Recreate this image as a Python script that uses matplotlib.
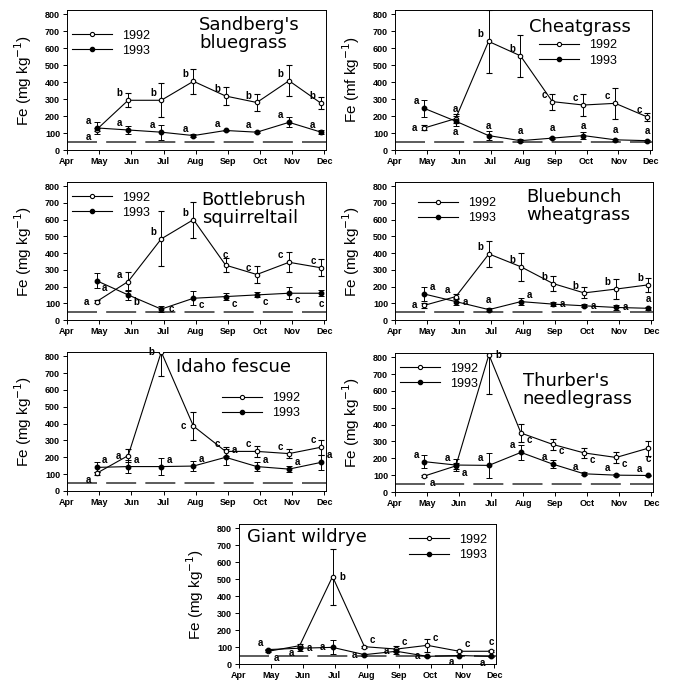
import matplotlib
matplotlib.use("Agg")
import matplotlib.pyplot as plt
from matplotlib.lines import Line2D

plt.rcParams['font.family'] = ['Liberation Sans', 'DejaVu Sans']

# -------------------------------------------------
# DATA
# -------------------------------------------------
months = ['Apr', 'May', 'Jun', 'Jul', 'Aug', 'Sep', 'Oct', 'Nov', 'Dec']
sample_x = [0.92, 1.9, 2.93, 3.93, 4.93, 5.9, 6.9, 7.9]
critical_level = 45

sandberg_1992 = [120, 293, 293, 405, 318, 280, 408, 275]
sandberg_1992_err = [10, 40, 100, 75, 52, 50, 90, 35]
sandberg_1993 = [130, 118, 105, 85, 115, 105, 163, 105]
sandberg_1993_err = [35, 25, 45, 8, 5, 5, 30, 10]
sandberg_1992_let = ['a', 'b', 'b', 'b', 'b', 'b', 'b', 'b']
sandberg_1993_let = ['a', 'a', 'a', 'a', 'a', 'a', 'a', 'a']

cheat_1992 = [130, 185, 640, 555, 285, 265, 275, 195]
cheat_1992_err = [15, 28, 185, 125, 47, 67, 90, 22]
cheat_1993 = [245, 170, 85, 55, 70, 85, 60, 55]
cheat_1993_err = [50, 30, 25, 8, 5, 20, 5, 5]
cheat_1992_let = ['a', 'a', 'b', 'b', 'c', 'c', 'c', 'c']
cheat_1993_let = ['a', 'a', 'a', 'a', 'a', 'a', 'a', 'a']

bottle_1992 = [110, 230, 485, 600, 328, 272, 345, 312]
bottle_1992_err = [10, 55, 165, 107, 43, 52, 60, 50]
bottle_1993 = [235, 150, 65, 130, 140, 150, 160, 160]
bottle_1993_err = [45, 28, 18, 42, 20, 15, 35, 18]
bottle_1992_let = ['a', 'a', 'b', 'b', 'c', 'c', 'c', 'c']
bottle_1993_let = ['a', 'b', 'c', 'c', 'c', 'c', 'c', 'c']

bluebunch_1992 = [88, 140, 395, 318, 218, 162, 185, 210]
bluebunch_1992_err = [15, 15, 76, 83, 44, 33, 60, 40]
bluebunch_1993 = [155, 110, 62, 110, 95, 85, 75, 70]
bluebunch_1993_err = [43, 20, 8, 22, 10, 8, 15, 8]
bluebunch_1992_let = ['a', 'a', 'b', 'b', 'b', 'b', 'b', 'b']
bluebunch_1993_let = ['a', 'a', 'a', 'a', 'a', 'a', 'a', 'a']

idaho_1992 = [105, 210, 825, 385, 235, 235, 222, 260]
idaho_1992_err = [8, 40, 140, 85, 25, 33, 25, 45]
idaho_1993 = [140, 145, 145, 148, 200, 145, 130, 170]
idaho_1993_err = [30, 40, 50, 28, 48, 28, 20, 45]
idaho_1992_let = ['a', 'a', 'b', 'c', 'c', 'c', 'c', 'c']
idaho_1993_let = ['a', 'a', 'a', 'a', 'a', 'a', 'a', 'a']

thurber_1992 = [95, 155, 815, 350, 282, 232, 205, 260]
thurber_1992_err = [5, 20, 235, 55, 33, 28, 35, 45]
thurber_1993 = [180, 160, 158, 235, 165, 108, 100, 98]
thurber_1993_err = [40, 33, 75, 45, 25, 10, 5, 5]
thurber_1992_let = ['a', 'a', 'b', 'c', 'c', 'c', 'c', 'c']
thurber_1993_let = ['a', 'a', 'a', 'a', 'a', 'a', 'a', 'a']

wildrye_1992 = [75, 108, 515, 102, 88, 110, 75, 75]
wildrye_1992_err = [5, 10, 165, 5, 20, 40, 5, 5]
wildrye_1993 = [85, 93, 98, 55, 75, 45, 50, 45]
wildrye_1993_err = [5, 15, 42, 5, 15, 5, 5, 5]
wildrye_1992_let = ['a', 'a', 'b', 'c', 'c', 'c', 'c', 'c']
wildrye_1993_let = ['a', 'a', 'a', 'a', 'a', 'a', 'a', 'a']

# -------------------------------------------------
# LAYOUT / STYLE
# -------------------------------------------------
W, H = 673, 685

# offsets (points) for the significance letters
OFF = {
    'ul': (-6, 5), 'l': (-7, 0), 'll': (-6, -5),
    'ur': (6, 5), 'r': (7, 0), 'lr': (6, -5),
    'u': (0, 7), 'd': (0, -8),
}

panels = [
    dict(title="Sandberg's\nbluegrass", ylabel='Fe (mg kg$^{-1}$)',
         box=(67, 326, 10, 150), title_xy=(0.51, 0.96), leg_xy=(0.02, 0.86),
         d92=sandberg_1992, e92=sandberg_1992_err, l92=sandberg_1992_let,
         d93=sandberg_1993, e93=sandberg_1993_err, l93=sandberg_1993_let,
         p92=['ll', 'ul', 'ul', 'ul', 'ul', 'ul', 'ul', 'ul'],
         p93=['ul'] * 8),
    dict(title="Cheatgrass", ylabel='Fe (mf kg$^{-1}$)',
         box=(395, 652, 10, 150), title_xy=(0.52, 0.945), leg_xy=(0.56, 0.79),
         d92=cheat_1992, e92=cheat_1992_err, l92=cheat_1992_let,
         d93=cheat_1993, e93=cheat_1993_err, l93=cheat_1993_let,
         p92=['l', 'u', 'ul', 'ul', 'ul', 'ul', 'ul', 'ul'],
         p93=['ul', 'd', 'u', 'u', 'u', 'u', 'u', 'u']),
    dict(title="Bottlebrush\nsquirreltail", ylabel='Fe (mg kg$^{-1}$)',
         box=(67, 326, 182, 320), title_xy=(0.52, 0.935), leg_xy=(0.02, 0.93),
         d92=bottle_1992, e92=bottle_1992_err, l92=bottle_1992_let,
         d93=bottle_1993, e93=bottle_1993_err, l93=bottle_1993_let,
         p92=['l', 'ul', 'ul', 'ul', 'u', 'ul', 'ul', 'ul'],
         p93=['lr', 'lr', 'r', 'lr', 'lr', 'lr', 'lr', 'd']),
    dict(title="Bluebunch\nwheatgrass", ylabel='Fe (mg kg$^{-1}$)',
         box=(395, 653, 182, 320), title_xy=(0.51, 0.96), leg_xy=(0.09, 0.89),
         d92=bluebunch_1992, e92=bluebunch_1992_err, l92=bluebunch_1992_let,
         d93=bluebunch_1993, e93=bluebunch_1993_err, l93=bluebunch_1993_let,
         p92=['l', 'ul', 'ul', 'ul', 'ul', 'ul', 'ul', 'ul'],
         p93=['ur', 'r', 'u', 'ur', 'r', 'r', 'r', 'u']),
    dict(title="Idaho fescue", ylabel='Fe (mg kg$^{-1}$)',
         box=(67, 326, 352, 491), title_xy=(0.42, 0.955), leg_xy=(0.60, 0.71),
         d92=idaho_1992, e92=idaho_1992_err, l92=idaho_1992_let,
         d93=idaho_1993, e93=idaho_1993_err, l93=idaho_1993_let,
         p92=['ll', 'l', 'l', 'l', 'ul', 'ul', 'ul', 'ul'],
         p93=['ur'] * 8),
    dict(title="Thurber's\nneedlegrass", ylabel='Fe (mg kg$^{-1}$)',
         box=(395, 653, 353, 492), title_xy=(0.495, 0.865), leg_xy=(0.02, 0.93),
         d92=thurber_1992, e92=thurber_1992_err, l92=thurber_1992_let,
         d93=thurber_1993, e93=thurber_1993_err, l93=thurber_1993_let,
         p92=['lr', 'lr', 'r', 'lr', 'lr', 'lr', 'lr', 'd'],
         p93=['ul'] * 8),
    dict(title="Giant wildrye", ylabel='Fe (mg kg$^{-1}$)',
         box=(239, 496, 524, 664), title_xy=(0.03, 0.97), leg_xy=(0.66, 0.93),
         d92=wildrye_1992, e92=wildrye_1992_err, l92=wildrye_1992_let,
         d93=wildrye_1993, e93=wildrye_1993_err, l93=wildrye_1993_let,
         p92=['lr', 'll', 'r', 'ur', 'ur', 'ur', 'ur', 'u'],
         p93=['ul', 'r', 'l', 'l', 'l', 'l', 'll', 'll']),
]


def add_letters(ax, ys, letters, codes):
    for x, y, s, c in zip(sample_x, ys, letters, codes):
        ax.annotate(s, (x, y), xytext=OFF[c], textcoords='offset points',
                    ha='center', va='center', fontsize=7, fontweight='bold',
                    annotation_clip=False)


def draw_panel(fig, p):
    l, r, t, b = p['box']
    ax = fig.add_axes([l / W, 1 - b / H, (r - l) / W, (b - t) / H])

    # critical level for livestock
    ax.axhline(critical_level, color='0.25', lw=1.2, dashes=(18, 5.5))

    ax.errorbar(sample_x, p['d92'], yerr=p['e92'], color='black', lw=0.8,
                elinewidth=0.7, capsize=2, capthick=0.7, marker='o', ms=3.2,
                mfc='white', mec='black', mew=0.8, zorder=3)
    ax.errorbar(sample_x, p['d93'], yerr=p['e93'], color='black', lw=0.8,
                elinewidth=0.7, capsize=2, capthick=0.7, marker='o', ms=3.2,
                mfc='black', mec='black', zorder=3)

    add_letters(ax, p['d92'], p['l92'], p['p92'])
    add_letters(ax, p['d93'], p['l93'], p['p93'])

    ax.set_xlim(0, 8.05)
    ax.set_ylim(0, 825)
    ax.set_xticks(range(len(months)))
    ax.set_xticklabels(months, fontsize=6.5, fontweight='bold')
    ax.set_yticks(range(0, 801, 100))
    ax.set_yticklabels([str(v) for v in range(0, 801, 100)],
                       fontsize=6.5, fontweight='bold')
    ax.tick_params(direction='out', length=3, width=0.7, pad=2)
    for sp in ax.spines.values():
        sp.set_linewidth(0.7)

    ax.set_ylabel(p['ylabel'], fontsize=11, labelpad=8)

    ax.text(p['title_xy'][0], p['title_xy'][1], p['title'],
            transform=ax.transAxes, ha='left', va='top', fontsize=13,
            family=['DejaVu Sans'], linespacing=1.0)

    handles = [
        Line2D([], [], color='black', lw=0.8, marker='o', ms=3,
               mfc='white', mec='black', mew=0.8),
        Line2D([], [], color='black', lw=0.8, marker='o', ms=3,
               mfc='black', mec='black'),
    ]
    ax.legend(handles, ['1992', '1993'], loc='upper left',
              bbox_to_anchor=p['leg_xy'], frameon=False, fontsize=9,
              handlelength=3.2, handletextpad=0.8, labelspacing=0.25,
              borderaxespad=0, borderpad=0)


fig = plt.figure(figsize=(W / 100, H / 100), dpi=100)
for p in panels:
    draw_panel(fig, p)

fig.savefig('out.png', dpi=100)
